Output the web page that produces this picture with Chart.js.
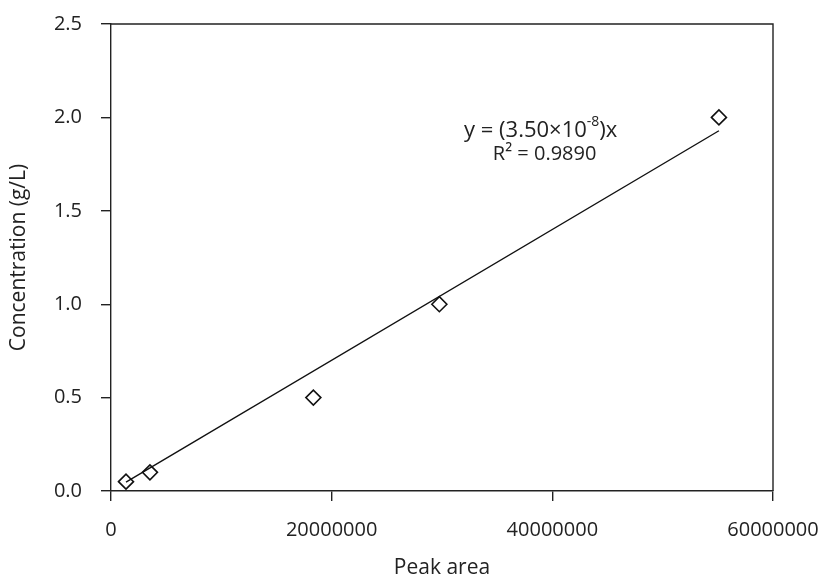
<!DOCTYPE html>
<html>
<head>
<meta charset="utf-8">
<script src="https://cdn.jsdelivr.net/npm/chart.js@4"></script>
<style>
  html, body { margin: 0; padding: 0; background: #fff; }
  #wrap { width: 827px; height: 583px; }
</style>
</head>
<body>
<div id="wrap"><canvas id="calib"></canvas></div>
<script>
// 検量線データ
const peakArea = [1360000, 3530000, 18340000, 29760000, 55100000];
const concentration = [0.05, 0.1, 0.5, 1.0, 2.0];
const slope = 3.50e-8;
const rSquared = '0.9890';
const xTicks = [0, 20000000, 40000000, 60000000];
const yTicks = [0, 0.5, 1.0, 1.5, 2.0, 2.5];

const FONT = "'Open Sans', 'Noto Sans', sans-serif";

// 近似直線 (原点を通る)
const xMin = Math.min(...peakArea);
const xMax = Math.max(...peakArea);
const fitLine = [
    { x: xMin, y: slope * xMin },
    { x: xMax, y: slope * xMax }
];

const points = peakArea.map((v, i) => ({ x: v, y: concentration[i] }));

// 枠線と数式を描く
const framePlugin = {
    id: 'frame',
    afterDraw(chart) {
        const { ctx, chartArea: a, scales } = chart;
        ctx.save();
        ctx.strokeStyle = '#222';
        ctx.lineWidth = 1.4;
        ctx.beginPath();
        ctx.moveTo(a.left, a.top);
        ctx.lineTo(a.right, a.top);
        ctx.lineTo(a.right, a.bottom);
        ctx.stroke();

        ctx.fillStyle = '#222';
        ctx.textBaseline = 'middle';
        ctx.textAlign = 'left';
        let x = scales.x.getPixelForValue(32000000);
        const y1 = scales.y.getPixelForValue(1.93);
        ctx.font = '22px ' + FONT;
        const part1 = 'y = (3.50×10';
        ctx.fillText(part1, x, y1);
        x += ctx.measureText(part1).width;
        ctx.font = '14px ' + FONT;
        ctx.fillText('-8', x, y1 - 8);
        x += ctx.measureText('-8').width;
        ctx.font = '22px ' + FONT;
        ctx.fillText(')x', x, y1);

        ctx.textAlign = 'center';
        ctx.font = '20px ' + FONT;
        const y2 = scales.y.getPixelForValue(1.8);
        ctx.fillText('R² = ' + rSquared, scales.x.getPixelForValue(39300000), y2);
        ctx.restore();
    }
};

new Chart(document.getElementById('calib').getContext('2d'), {
    type: 'scatter',
    data: {
        datasets: [
            {
                label: 'fit',
                type: 'line',
                data: fitLine,
                borderColor: '#111',
                borderWidth: 1.4,
                pointRadius: 0,
                fill: false
            },
            {
                label: 'standard',
                data: points,
                pointStyle: 'rectRot',
                pointRadius: 7.5,
                pointBorderWidth: 1.6,
                borderColor: '#111',
                backgroundColor: 'transparent'
            }
        ]
    },
    options: {
        responsive: true,
        maintainAspectRatio: false,
        animation: false,
        layout: { padding: { top: 24, right: 54, left: 0, bottom: 0 } },
        plugins: {
            legend: { display: false },
            tooltip: { enabled: false }
        },
        scales: {
            x: {
                type: 'linear',
                min: xTicks[0],
                max: xTicks[xTicks.length - 1],
                afterFit(scale) {
                    scale.height = 92;
                    scale.paddingLeft = 0;
                    scale.paddingRight = 0;
                },
                afterBuildTicks(scale) { scale.ticks = xTicks.map(v => ({ value: v })); },
                ticks: {
                    color: '#222',
                    padding: 17,
                    maxRotation: 0,
                    font: { family: FONT, size: 20 },
                    callback: v => String(v)
                },
                grid: { drawOnChartArea: false, drawTicks: true, tickLength: 10, color: '#222', lineWidth: 1.4 },
                border: { display: true, color: '#222', width: 1.4 },
                title: {
                    display: true,
                    text: 'Peak area',
                    color: '#222',
                    font: { family: FONT, size: 21 },
                    padding: { top: 4, bottom: 2 }
                }
            },
            y: {
                type: 'linear',
                min: yTicks[0],
                max: yTicks[yTicks.length - 1],
                afterFit(scale) {
                    scale.width = 111;
                    scale.paddingTop = 0;
                    scale.paddingBottom = 0;
                },
                afterBuildTicks(scale) { scale.ticks = yTicks.map(v => ({ value: v })); },
                ticks: {
                    color: '#222',
                    padding: 19,
                    font: { family: FONT, size: 20 },
                    callback: v => v.toFixed(1)
                },
                grid: { drawOnChartArea: false, drawTicks: true, tickLength: 10, color: '#222', lineWidth: 1.4 },
                border: { display: true, color: '#222', width: 1.4 },
                title: {
                    display: true,
                    text: 'Concentration (g/L)',
                    color: '#222',
                    font: { family: FONT, size: 21 },
                    padding: { top: 6, bottom: 4 }
                }
            }
        }
    },
    plugins: [framePlugin]
});
</script>
</body>
</html>
